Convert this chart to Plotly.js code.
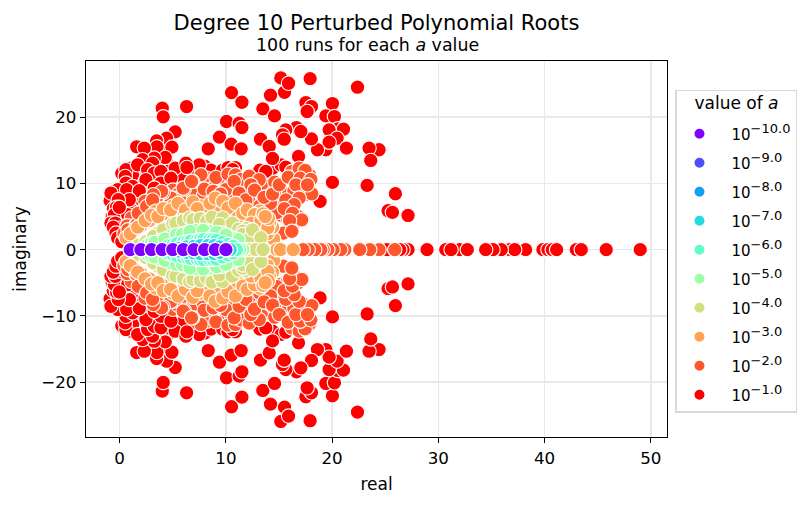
<!DOCTYPE html>
<html>
<head>
<meta charset="utf-8">
<script src="https://cdn.plot.ly/plotly-3.0.1.min.js"></script>
<style>body { margin: 0; background: white; }</style>
</head>
<body>
<div id="chart" style="width:811px;height:506px;"></div>
<script>
// [real, imaginary] pairs, one list per value of a
const roots_e1 = [[4.01,21.37],[4.10,20.06],[6.30,21.62],[10.53,23.73],[11.51,22.27],[10.06,19.36],[11.25,19.11],[11.51,18.45],[9.40,17.0],[10.50,15.94],[11.44,15.24],[8.34,15.24],[15.17,25.95],[15.52,23.78],[15.90,25.14],[14.20,23.33],[13.48,21.27],[14.58,20.21],[17.93,25.84],[22.39,24.54],[17.53,22.22],[18.06,21.62],[17.65,20.87],[20.03,22.07],[19.41,20.21],[20.22,20.11],[20.54,18.25],[21.07,18.2],[19.72,18.1],[20.47,16.84],[19.41,15.09],[19.72,16.24],[18.62,15.09],[18.06,16.74],[16.65,18.45],[17.06,17.85],[15.64,18.1],[15.33,17.35],[15.49,16.69],[13.26,16.69],[14.08,15.59],[14.39,13.78],[16.84,14.08],[21.35,15.34],[24.42,15.09],[23.48,15.34],[23.64,13.48],[13.76,11.82],[15.64,12.47],[18.87,7.29],[20.03,10.16],[23.30,9.71],[25.96,8.45],[25.27,5.88],[25.68,5.63],[27.15,5.17],[5.23,17.8],[4.42,16.85],[3.48,16.44],[4.92,15.49],[3.51,15.54],[1.60,15.54],[2.32,15.34],[4.29,13.93],[3.26,13.83],[2.16,13.58],[3.1,13.07],[1.22,11.3],[0.59,12.07],[0.53,11.06],[1.69,12.82],[2.63,12.07],[3.26,11.57],[3.89,11.82],[2.47,10.56],[3.89,10.06],[3.26,9.3],[0.59,10.06],[1.22,9.55],[-0.19,9.05],[-0.82,8.55],[0.66,9.05],[1.85,8.9],[0.91,7.54],[-0.13,7.54],[-0.3,6.4],[0.28,5.03],[-0.5,5.28],[0.75,5.28],[-0.03,6.39],[-0.82,4.02],[-0.41,4.02],[0.12,3.27],[-0.6,3.4],[-0.35,2.5],[-0.19,1.76],[0.2,1.2],[5.23,12.32],[4.83,10.81],[7.49,12.82],[6.24,13.07],[6.33,12.42],[10.63,12.07]];
const roots_e1_conj = [[4.01,-21.37],[4.10,-20.06],[6.30,-21.62],[10.53,-23.73],[11.51,-22.27],[10.06,-19.36],[11.25,-19.11],[11.51,-18.45],[9.40,-17.0],[10.50,-15.94],[11.44,-15.24],[8.34,-15.24],[15.17,-25.95],[15.52,-23.78],[15.90,-25.14],[14.20,-23.33],[13.48,-21.27],[14.58,-20.21],[17.93,-25.84],[22.39,-24.54],[17.53,-22.22],[18.06,-21.62],[17.65,-20.87],[20.03,-22.07],[19.41,-20.21],[20.22,-20.11],[20.54,-18.25],[21.07,-18.2],[19.72,-18.1],[20.47,-16.84],[19.41,-15.09],[19.72,-16.24],[18.62,-15.09],[18.06,-16.74],[16.65,-18.45],[17.06,-17.85],[15.64,-18.1],[15.33,-17.35],[15.49,-16.69],[13.26,-16.69],[14.08,-15.59],[14.39,-13.78],[16.84,-14.08],[21.35,-15.34],[24.42,-15.09],[23.48,-15.34],[23.64,-13.48],[13.76,-11.82],[15.64,-12.47],[18.87,-7.29],[20.03,-10.16],[23.30,-9.71],[25.96,-8.45],[25.27,-5.88],[25.68,-5.63],[27.15,-5.17],[5.23,-17.8],[4.42,-16.85],[3.48,-16.44],[4.92,-15.49],[3.51,-15.54],[1.60,-15.54],[2.32,-15.34],[4.29,-13.93],[3.26,-13.83],[2.16,-13.58],[3.1,-13.07],[1.22,-11.3],[0.59,-12.07],[0.53,-11.06],[1.69,-12.82],[2.63,-12.07],[3.26,-11.57],[3.89,-11.82],[2.47,-10.56],[3.89,-10.06],[3.26,-9.3],[0.59,-10.06],[1.22,-9.55],[-0.19,-9.05],[-0.82,-8.55],[0.66,-9.05],[1.85,-8.9],[0.91,-7.54],[-0.13,-7.54],[-0.3,-6.4],[0.28,-5.03],[-0.5,-5.28],[0.75,-5.28],[-0.03,-6.39],[-0.82,-4.02],[-0.41,-4.02],[0.12,-3.27],[-0.6,-3.4],[-0.35,-2.5],[-0.19,-1.76],[0.2,-1.2],[5.23,-12.32],[4.83,-10.81],[7.49,-12.82],[6.24,-13.07],[6.33,-12.42],[10.63,-12.07]];
const roots_e1_dense = [[0.2,11.5],[1.0,12.3],[1.4,10.6],[2.0,9.9],[2.9,9.6],[1.9,11.5],[2.2,12.6],[2.9,14.4],[3.9,14.8],[4.5,12.9],[3.7,12.9],[4.4,11.9],[4.1,9.2],[2.9,8.5],[0.3,8.0],[1.3,7.9],[1.6,6.9],[0.6,6.7],[1.2,5.9],[0.1,4.4],[0.5,4.0],[1.0,4.4],[-0.4,7.0],[-0.9,7.4],[-0.6,6.2],[-0.7,5.0],[-0.2,3.0],[0.4,2.2],[5.6,11.6],[6.5,11.4],[7.0,12.2],[5.9,11.0],[8.0,12.6],[8.6,12.0],[9.7,12.0],[10.2,12.4],[10.9,12.4],[13.2,12.0],[14.4,12.3],[15.2,12.8]];
const roots_e1_dense_conj = [[0.2,-11.5],[1.0,-12.3],[1.4,-10.6],[2.0,-9.9],[2.9,-9.6],[1.9,-11.5],[2.2,-12.6],[2.9,-14.4],[3.9,-14.8],[4.5,-12.9],[3.7,-12.9],[4.4,-11.9],[4.1,-9.2],[2.9,-8.5],[0.3,-8.0],[1.3,-7.9],[1.6,-6.9],[0.6,-6.7],[1.2,-5.9],[0.1,-4.4],[0.5,-4.0],[1.0,-4.4],[-0.4,-7.0],[-0.9,-7.4],[-0.6,-6.2],[-0.7,-5.0],[-0.2,-3.0],[0.4,-2.2],[5.6,-11.6],[6.5,-11.4],[7.0,-12.2],[5.9,-11.0],[8.0,-12.6],[8.6,-12.0],[9.7,-12.0],[10.2,-12.4],[10.9,-12.4],[13.2,-12.0],[14.4,-12.3],[15.2,-12.8]];
const roots_e1_real = [[49.01,0],[45.81,0],[42.99,0],[43.46,0],[39.85,0],[40.32,0],[40.73,0],[41.14,0],[38.22,0],[36.4,0],[36.72,0],[37.19,0],[35.93,0],[35.15,0],[34.46,0],[32.01,0],[32.73,0],[30.7,0],[31.2,0],[28.94,0],[27.15,0],[26.68,0],[26.37,0],[25.18,0]];

const roots_e2 = [[5.0,9.0],[5.5,8.4],[6.6,8.8],[7.3,9.0],[7.0,9.8],[8.4,10.0],[8.2,10.8],[9.5,9.8],[9.8,10.6],[10.4,9.6],[11.6,9.6],[12.0,8.5],[12.6,7.6],[13.2,8.8],[13.9,9.2],[13.4,10.0],[14.6,10.2],[15.3,8.7],[15.9,8.5],[16.4,8.9],[17.1,9.0],[16.6,10.8],[16.2,11.8],[17.9,11.2],[17.4,8.3],[15.0,7.2],[14.5,6.6],[15.2,5.2],[15.8,4.8],[16.4,3.9],[16.8,5.0],[14.8,5.6],[2.7,6.2],[3.6,6.6],[4.2,7.2],[5.0,7.8],[1.2,4.2],[1.1,4.8],[0.7,3.6],[0.4,2.4],[2.2,5.8],[3.0,6.9],[6.0,8.0],[6.9,8.4],[7.9,8.2],[8.7,9.2],[10.8,8.0],[12.2,7.2],[13.2,6.6],[14.2,7.0],[7.65,11.3],[9.06,10.9],[10.2,11.4],[10.9,11.3],[11.4,10.6],[7.96,9.15],[6.08,9.15],[6.87,10.3],[4.83,7.8],[4.1,8.65],[3.48,7.95],[3.95,8.8],[3.17,8.3],[5.98,9.3],[6.77,10.3],[10.0,9.05],[10.78,10.3],[11.25,8.55],[11.88,7.5],[12.2,11.1],[13.14,10.56],[12.35,9.8],[12.7,9.0],[13.6,7.9],[14.4,8.4],[15.02,9.8],[15.87,10.96],[16.9,12.3],[17.46,11.97],[17.0,10.8],[18.0,10.6],[16.59,9.8],[18.09,8.45],[17.68,9.8],[16.9,7.8],[15.64,7.5],[16.43,6.8],[15.5,6.2],[16.27,5.5],[17.15,4.5],[16.0,4.4],[15.4,2.5],[16.21,2.77],[1.53,3.77],[0.78,3.0],[1.6,3.77],[2.0,5.28],[1.75,5.53],[2.38,7.3],[2.54,6.53],[3.26,5.53],[3.1,7.5],[8.8,8.8],[9.5,8.4]];
const roots_e2_conj = [[5.0,-9.0],[5.5,-8.4],[6.6,-8.8],[7.3,-9.0],[7.0,-9.8],[8.4,-10.0],[8.2,-10.8],[9.5,-9.8],[9.8,-10.6],[10.4,-9.6],[11.6,-9.6],[12.0,-8.5],[12.6,-7.6],[13.2,-8.8],[13.9,-9.2],[13.4,-10.0],[14.6,-10.2],[15.3,-8.7],[15.9,-8.5],[16.4,-8.9],[17.1,-9.0],[16.6,-10.8],[16.2,-11.8],[17.9,-11.2],[17.4,-8.3],[15.0,-7.2],[14.5,-6.6],[15.2,-5.2],[15.8,-4.8],[16.4,-3.9],[16.8,-5.0],[14.8,-5.6],[2.7,-6.2],[3.6,-6.6],[4.2,-7.2],[5.0,-7.8],[1.2,-4.2],[1.1,-4.8],[0.7,-3.6],[0.4,-2.4],[2.2,-5.8],[3.0,-6.9],[6.0,-8.0],[6.9,-8.4],[7.9,-8.2],[8.7,-9.2],[10.8,-8.0],[12.2,-7.2],[13.2,-6.6],[14.2,-7.0],[7.65,-11.3],[9.06,-10.9],[10.2,-11.4],[10.9,-11.3],[11.4,-10.6],[7.96,-9.15],[6.08,-9.15],[6.87,-10.3],[4.83,-7.8],[4.1,-8.65],[3.48,-7.95],[3.95,-8.8],[3.17,-8.3],[5.98,-9.3],[6.77,-10.3],[10.0,-9.05],[10.78,-10.3],[11.25,-8.55],[11.88,-7.5],[12.2,-11.1],[13.14,-10.56],[12.35,-9.8],[12.7,-9.0],[13.6,-7.9],[14.4,-8.4],[15.02,-9.8],[15.87,-10.96],[16.9,-12.3],[17.46,-11.97],[17.0,-10.8],[18.0,-10.6],[16.59,-9.8],[18.09,-8.45],[17.68,-9.8],[16.9,-7.8],[15.64,-7.5],[16.43,-6.8],[15.5,-6.2],[16.27,-5.5],[17.15,-4.5],[16.0,-4.4],[15.4,-2.5],[16.21,-2.77],[1.53,-3.77],[0.78,-3.0],[1.6,-3.77],[2.0,-5.28],[1.75,-5.53],[2.38,-7.3],[2.54,-6.53],[3.26,-5.53],[3.1,-7.5],[8.8,-8.8],[9.5,-8.4]];
const roots_e2_real = [[25.9,0],[24.42,0],[23.55,0],[22.6,0],[21.2,0],[20.82,0],[20.1,0],[19.6,0],[19.16,0],[18.94,0],[18.37,0],[17.75,0],[17.27,0]];

const roots_e3 = [[0.9,2.0],[1.4,3.0],[2.0,3.6],[2.8,4.4],[3.4,5.8],[4.4,5.4],[5.0,6.6],[5.8,6.2],[6.5,6.5],[7.6,6.6],[8.2,6.2],[8.9,6.6],[9.3,6.4],[10.6,6.0],[11.3,6.2],[11.9,5.0],[12.2,4.4],[13.2,5.8],[13.6,3.6],[0.6,1.8],[1.0,2.4],[1.7,3.4],[2.4,4.4],[3.0,5.2],[3.6,5.0],[4.1,6.2],[4.8,6.0],[5.5,7.0],[6.2,6.0],[6.9,7.2],[7.9,5.8],[7.3,6.2],[8.5,7.0],[9.0,7.8],[9.7,7.3],[10.2,6.3],[10.9,7.0],[11.1,4.8],[11.6,5.5],[12.0,6.0],[12.7,5.3],[12.4,4.0],[13.0,3.2],[13.3,4.4],[13.5,5.4],[14.5,1.6],[13.9,2.4],[14.4,3.4],[14.1,4.0],[13.8,4.8],[13.95,3.3],[14.0,4.7],[13.7,5.0]];
const roots_e3_conj = [[0.9,-2.0],[1.4,-3.0],[2.0,-3.6],[2.8,-4.4],[3.4,-5.8],[4.4,-5.4],[5.0,-6.6],[5.8,-6.2],[6.5,-6.5],[7.6,-6.6],[8.2,-6.2],[8.9,-6.6],[9.3,-6.4],[10.6,-6.0],[11.3,-6.2],[11.9,-5.0],[12.2,-4.4],[13.2,-5.8],[13.6,-3.6],[0.6,-1.8],[1.0,-2.4],[1.7,-3.4],[2.4,-4.4],[3.0,-5.2],[3.6,-5.0],[4.1,-6.2],[4.8,-6.0],[5.5,-7.0],[6.2,-6.0],[6.9,-7.2],[7.9,-5.8],[7.3,-6.2],[8.5,-7.0],[9.0,-7.8],[9.7,-7.3],[10.2,-6.3],[10.9,-7.0],[11.1,-4.8],[11.6,-5.5],[12.0,-6.0],[12.7,-5.3],[12.4,-4.0],[13.0,-3.2],[13.3,-4.4],[13.5,-5.4],[14.5,-1.6],[13.9,-2.4],[14.4,-3.4],[14.1,-4.0],[13.8,-4.8],[13.95,-3.3],[14.0,-4.7],[13.7,-5.0]];
const roots_e3_real = [[14.8,0],[15.14,0],[16.33,0]];

const roots_e4 = [[2.2,1.0],[2.9,1.6],[3.6,2.5],[4.6,3.4],[5.7,4.0],[6.3,4.0],[7.2,4.2],[7.9,4.5],[8.9,4.2],[9.1,4.6],[9.9,4.2],[10.3,3.3],[10.8,3.4],[11.0,2.6],[11.9,3.2],[12.0,2.3],[12.8,2.2],[1.8,0.7],[2.5,1.2],[3.2,2.0],[4.1,3.0],[5.0,3.9],[5.3,4.0],[6.0,4.4],[6.6,4.8],[6.9,4.5],[7.6,4.7],[8.2,4.3],[8.7,4.9],[9.7,4.8],[9.4,3.8],[10.2,2.5],[10.6,4.0],[11.2,3.1],[11.6,2.8],[11.6,2.3],[12.3,1.8],[12.5,3.0],[13.3,1.8]];
const roots_e4_conj = [[2.2,-1.0],[2.9,-1.6],[3.6,-2.5],[4.6,-3.4],[5.7,-4.0],[6.3,-4.0],[7.2,-4.2],[7.9,-4.5],[8.9,-4.2],[9.1,-4.6],[9.9,-4.2],[10.3,-3.3],[10.8,-3.4],[11.0,-2.6],[11.9,-3.2],[12.0,-2.3],[12.8,-2.2],[1.8,-0.7],[2.5,-1.2],[3.2,-2.0],[4.1,-3.0],[5.0,-3.9],[5.3,-4.0],[6.0,-4.4],[6.6,-4.8],[6.9,-4.5],[7.6,-4.7],[8.2,-4.3],[8.7,-4.9],[9.7,-4.8],[9.4,-3.8],[10.2,-2.5],[10.6,-4.0],[11.2,-3.1],[11.6,-2.8],[11.6,-2.3],[12.3,-1.8],[12.5,-3.0],[13.3,-1.8]];
const roots_e4_real = [[11.8,0],[12.3,0],[12.8,0],[13.5,0]];

const roots_e5 = [[2.6,0.7],[3.0,1.0],[3.8,1.4],[4.8,2.0],[6.2,2.5],[7.2,2.9],[8.4,2.8],[9.6,2.5],[10.3,2.0],[10.9,1.6],[3.32,1.1],[4.26,1.6],[5.36,2.26],[5.9,2.26],[6.62,2.76],[7.87,2.92],[8.9,2.27],[9.12,2.6],[10.54,1.76],[11.16,1.5],[10.0,2.2]];
const roots_e5_conj = [[2.6,-0.7],[3.0,-1.0],[3.8,-1.4],[4.8,-2.0],[6.2,-2.5],[7.2,-2.9],[8.4,-2.8],[9.6,-2.5],[10.3,-2.0],[10.9,-1.6],[3.32,-1.1],[4.26,-1.6],[5.36,-2.26],[5.9,-2.26],[6.62,-2.76],[7.87,-2.92],[8.9,-2.27],[9.12,-2.6],[10.54,-1.76],[11.16,-1.5],[10.0,-2.2]];
const roots_e5_real = [[11.6,0],[11.3,0]];

const roots_e6 = [[4.6,0.6],[5.0,0.7],[5.4,0.9],[6.0,1.1],[6.4,1.2],[6.7,1.3],[7.3,1.4],[7.6,1.5],[7.9,1.5],[8.5,1.5],[8.8,1.5],[9.1,1.4],[9.7,1.1],[10.2,0.8],[10.7,0.5]];
const roots_e6_conj = [[4.6,-0.6],[5.0,-0.7],[5.4,-0.9],[6.0,-1.1],[6.4,-1.2],[6.7,-1.3],[7.3,-1.4],[7.6,-1.5],[7.9,-1.5],[8.5,-1.5],[8.8,-1.5],[9.1,-1.4],[9.7,-1.1],[10.2,-0.8],[10.7,-0.5]];
const roots_e6_real = [[11.0,0]];

const roots_e7 = [[5.6,0.2],[6.3,0.4],[7.0,0.5],[7.6,0.6],[8.3,0.6],[8.9,0.6],[9.4,0.4]];
const roots_e7_conj = [[5.6,-0.2],[6.3,-0.4],[7.0,-0.5],[7.6,-0.6],[8.3,-0.6],[8.9,-0.6],[9.4,-0.4]];
const roots_e7_real = [[10.4,0]];

const roots_e8 = [[1,0],[2,0],[3,0],[4,0],[5,0],[6,0],[7,0],[8,0],[9,0],[10,0]];
const roots_e9 = [[1,0],[2,0],[3,0],[4,0],[5,0],[6,0],[7,0],[8,0],[9,0],[10,0]];
const roots_e10 = [[1,0],[2,0],[3,0],[4,0],[5,0],[6,0],[7,0],[8,0],[9,0],[10,0]];

const xTicks = [0, 10, 20, 30, 40, 50];
const yTicks = [-20, -10, 0, 10, 20];
const exponents = ['\u221210.0', '\u22129.0', '\u22128.0', '\u22127.0', '\u22126.0', '\u22125.0', '\u22124.0', '\u22123.0', '\u22122.0', '\u22121.0'];
const colors = ['#7f00ff', '#4c50fb', '#12a3f0', '#26dae0', '#62fdc9', '#9cffa5', '#d4dd80', '#ffa256', '#ff562c', '#ff0000'];

const series = [
  roots_e10,
  roots_e9,
  roots_e8,
  [...roots_e7, ...roots_e7_conj, ...roots_e7_real],
  [...roots_e6, ...roots_e6_conj, ...roots_e6_real],
  [...roots_e5, ...roots_e5_conj, ...roots_e5_real],
  [...roots_e4, ...roots_e4_conj, ...roots_e4_real],
  [...roots_e3, ...roots_e3_conj, ...roots_e3_real],
  [...roots_e2, ...roots_e2_conj, ...roots_e2_real],
  [...roots_e1_dense, ...roots_e1_dense_conj, ...roots_e1, ...roots_e1_conj, ...roots_e1_real]
];

// Largest a goes down first so the tight clusters stay on top
const traces = series.map((pts, i) => ({
  type: 'scatter',
  mode: 'markers',
  name: '\u00a0\u00a010<sup><span style="font-size:13px">' + exponents[i] + '</span></sup>',
  legendgroup: 'g' + i,
  legendrank: i + 1,
  x: pts.map(p => p[0]),
  y: pts.map(p => p[1]),
  marker: { color: colors[i], size: 14.4, line: { color: 'white', width: 1.1 } }
})).reverse();

const layout = {
  width: 811,
  height: 506,
  margin: { l: 86, r: 143.5, t: 61, b: 68.5 },
  paper_bgcolor: 'white',
  plot_bgcolor: 'white',
  font: { family: 'DejaVu Sans', size: 16.7, color: 'black' },
  title: {
    text: 'Degree 10 Perturbed Polynomial Roots',
    font: { size: 21 },
    x: 0.5,
    xref: 'paper',
    xanchor: 'center',
    y: 0.955,
    yanchor: 'middle'
  },
  annotations: [{
    text: '100 runs for each <i>a</i> value',
    xref: 'paper',
    yref: 'paper',
    x: 0.4845,
    y: 1.0425,
    xanchor: 'center',
    yanchor: 'middle',
    showarrow: false,
    font: { size: 17.4 }
  }],
  xaxis: {
    range: [-3.17, 51.53],
    tickvals: xTicks,
    ticks: 'outside',
    ticklen: 5,
    tickwidth: 1,
    tickcolor: 'black',
    ticklabelstandoff: 1,
    showline: true,
    mirror: true,
    linecolor: 'black',
    linewidth: 1.2,
    showgrid: true,
    gridcolor: '#e9e9e9',
    gridwidth: 1.6,
    zeroline: false,
    title: { text: 'real', standoff: 10, font: { size: 17 } }
  },
  yaxis: {
    range: [-28.3, 28.5],
    tickvals: yTicks,
    ticks: 'outside',
    ticklen: 5,
    tickwidth: 1,
    tickcolor: 'black',
    showline: true,
    mirror: true,
    linecolor: 'black',
    linewidth: 1.2,
    showgrid: true,
    gridcolor: '#e9e9e9',
    gridwidth: 1.6,
    zeroline: false,
    title: { text: 'imaginary', standoff: 10, font: { size: 17 } }
  },
  legend: {
    x: 1.0146,
    y: 0.923,
    xanchor: 'left',
    yanchor: 'top',
    bgcolor: 'white',
    bordercolor: '#d9d9d9',
    borderwidth: 1.5,
    traceorder: 'grouped',
    tracegroupgap: 6.5,
    itemsizing: 'constant',
    itemwidth: 35,
    font: { size: 15 },
    // blank lines either side set the gaps around the title
    title: { text: '\u00a0<br><span style="font-size:17px">value of <i>a</i></span><br>\u00a0', side: 'top center', font: { size: 6.7 } }
  }
};

Plotly.newPlot('chart', traces, layout, { displayModeBar: false, staticPlot: true });
</script>
</body>
</html>
